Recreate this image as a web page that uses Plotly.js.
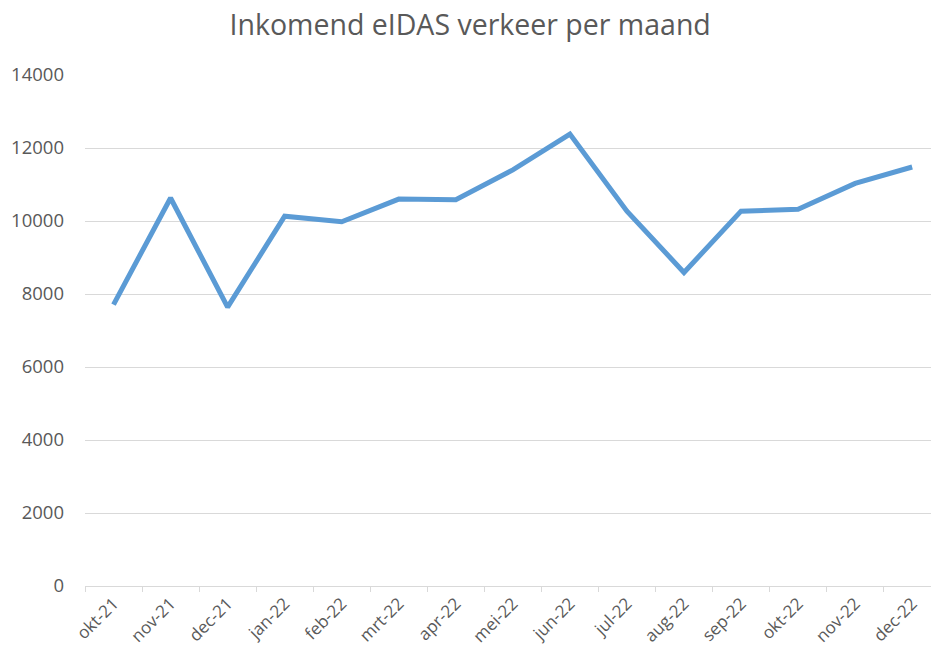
<!DOCTYPE html>
<html>
<head>
<meta charset="utf-8">
<script src="https://cdn.plot.ly/plotly-3.0.1.min.js"></script>
<style>html,body{margin:0;padding:0;background:#fff;}#chart{width:931px;height:657px;}</style>
</head>
<body>
<div id="chart"></div>
<script>
const months = ["okt-21","nov-21","dec-21","jan-22","feb-22","mrt-22","apr-22","mei-22","jun-22","jul-22","aug-22","sep-22","okt-22","nov-22","dec-22"];
const verkeer = [7710, 10630, 7640, 10130, 9980, 10600, 10580, 11400, 12380, 10270, 8590, 10270, 10320, 11030, 11480];
const yTicks = [0, 2000, 4000, 6000, 8000, 10000, 12000, 14000];
const titleText = "Inkomend eIDAS verkeer per maand";

const fontFam = "Open Sans, Lato, sans-serif";
const grey = "#595959";

Plotly.newPlot("chart", [{
  type: "scatter",
  mode: "lines",
  x: months,
  y: verkeer,
  line: {color: "#5B9BD5", width: 5, shape: "linear"},
  hoverinfo: "x+y"
}], {
  width: 931, height: 657,
  paper_bgcolor: "#fff", plot_bgcolor: "#fff",
  margin: {l: 85, r: 0, t: 75, b: 71},
  showlegend: false,
  title: {text: titleText, font: {family: fontFam, size: 28.5, color: grey}, x: 0.505, xanchor: "center", y: 0.962, yanchor: "middle"},
  xaxis: {
    type: "category",
    range: [-0.5, 14.33],
    tickson: "boundaries",
    ticks: "outside", ticklen: 5, tickcolor: "#D9D9D9",
    showgrid: false,
    showline: true, linecolor: "#D9D9D9", linewidth: 1,
    tickangle: -45,
    tickfont: {family: fontFam, size: 17, color: grey},
    fixedrange: true
  },
  yaxis: {
    range: [0, 14000],
    tickvals: yTicks,
    ticktext: yTicks.map(String),
    showgrid: true, gridcolor: "#D9D9D9", gridwidth: 1,
    zeroline: false,
    showline: false,
    ticks: "",
    ticklabelstandoff: 20,
    tickfont: {family: fontFam, size: 18.5, color: grey},
    fixedrange: true
  }
}, {displayModeBar: false, staticPlot: true});
</script>
</body>
</html>
